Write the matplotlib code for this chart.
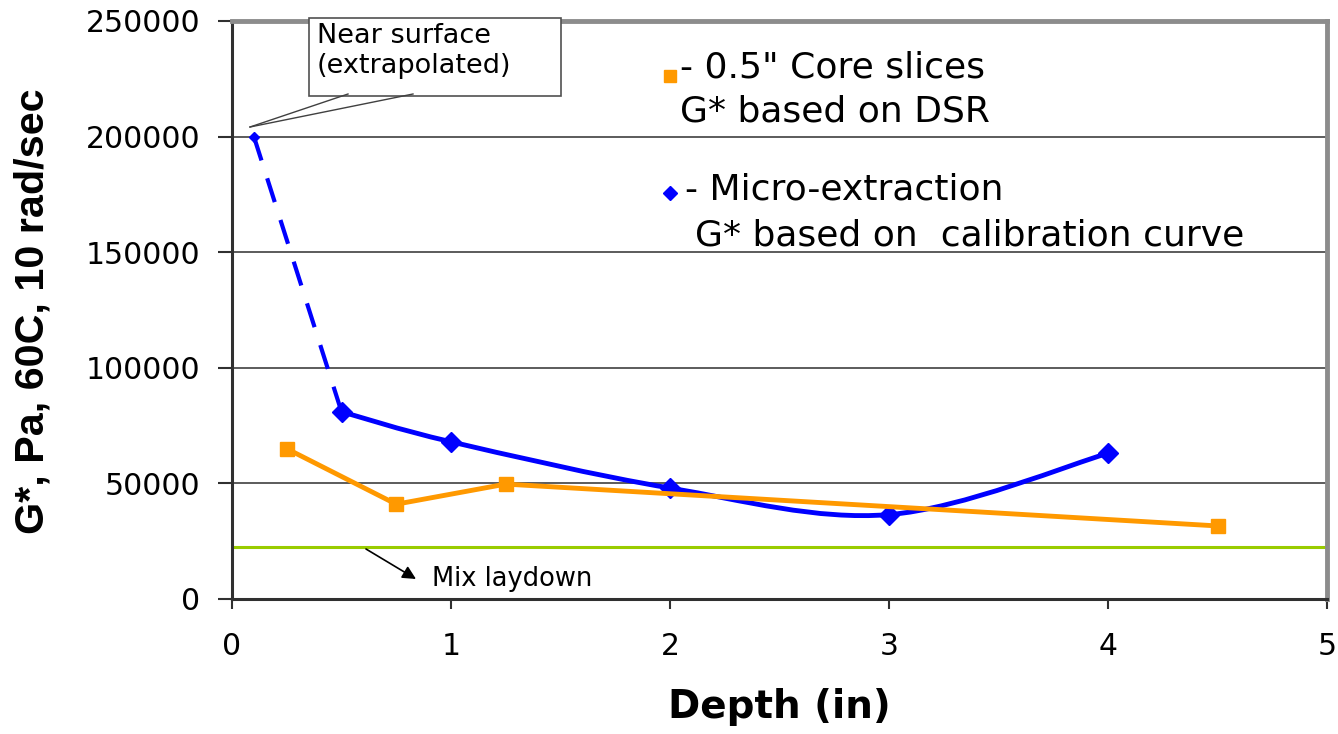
import matplotlib
matplotlib.use("Agg")
import matplotlib.pyplot as plt
from matplotlib import font_manager
from matplotlib.path import Path
from matplotlib.patches import PathPatch, Rectangle

# ---------------- data ----------------
depth_core = [0.25, 0.75, 1.25, 4.5]
g_core = [65000, 41000, 49700, 31600]

depth_micro = [0.1, 0.5, 1.0, 2.0, 3.0, 4.0]
g_micro = [200000, 81000, 68000, 48000, 36500, 63000]

mix_laydown = 22500

x_ticks = [0, 1, 2, 3, 4, 5]
x_tick_labels = ["0", "1", "2", "3", "4", "5"]
y_ticks = [0, 50000, 100000, 150000, 200000, 250000]
y_tick_labels = ["0", "50000", "100000", "150000", "200000", "250000"]

legend_core = ['- 0.5" Core slices', 'G* based on DSR']
legend_micro = ['- Micro-extraction', 'G* based on  calibration curve']
callout_text = "Near surface\n(extrapolated)"
mix_text = "Mix laydown"
x_label = "Depth (in)"
y_label = "G*, Pa, 60C, 10 rad/sec"

# ---------------- style ----------------
W, H = 1338, 734
ORANGE = "#FF9900"
BLUE = "#0000FF"
GREEN = "#99CC00"

names = {f.name for f in font_manager.fontManager.ttflist}
arial_like = "Liberation Sans" if "Liberation Sans" in names else "DejaVu Sans"

plt.rcParams["font.family"] = ["DejaVu Sans"]


def fx(px):
    return px / W


def fy(py):
    return 1 - py / H


fig = plt.figure(figsize=(W / 100, H / 100), dpi=100)
ax = fig.add_axes([fx(232), fy(599), (1327 - 232) / W, (599 - 21) / H])
ax.set_xlim(0, 5)
ax.set_ylim(0, 250000)
ax.set_xticks(x_ticks)
ax.set_xticklabels(x_tick_labels)
ax.set_yticks(y_ticks)
ax.set_yticklabels(y_tick_labels)

for s in ("left", "bottom"):
    ax.spines[s].set_color("#303030")
    ax.spines[s].set_linewidth(2.2)
for s in ("top", "right"):
    ax.spines[s].set_color("#8c8c8c")
    ax.spines[s].set_linewidth(3.5)

ax.tick_params(axis="y", direction="out", length=10, width=1.5, color="#303030",
               pad=13, labelsize=21.5)
ax.tick_params(axis="x", direction="out", length=7, width=1.5, color="#303030",
               pad=17, labelsize=21.5)

ax.yaxis.grid(True, color="#404040", lw=1.2)
ax.set_axisbelow(True)

# mix laydown line
ax.axhline(mix_laydown, color=GREEN, lw=2.2, zorder=2)

# micro-extraction: dashed extrapolated segment
ax.plot(depth_micro[:2], g_micro[:2], color=BLUE, lw=3, ls=(0, (6, 4.5)), zorder=3)
ax.plot(depth_micro[:1], g_micro[:1], ls="none", marker="D", ms=5, color=BLUE, zorder=3)

# micro-extraction: smoothed curve (Excel-like Bezier smoothing)
px = depth_micro[1:]
py = g_micro[1:]
n = len(px)
verts = [(px[0], py[0])]
codes = [Path.MOVETO]
for i in range(n - 1):
    i0 = max(i - 1, 0)
    i3 = min(i + 2, n - 1)
    c1 = (px[i] + (px[i + 1] - px[i0]) / 6, py[i] + (py[i + 1] - py[i0]) / 6)
    c2 = (px[i + 1] - (px[i3] - px[i]) / 6, py[i + 1] - (py[i3] - py[i]) / 6)
    verts += [c1, c2, (px[i + 1], py[i + 1])]
    codes += [Path.CURVE4] * 3
ax.add_patch(PathPatch(Path(verts, codes), fill=False, ec=BLUE, lw=3.5, zorder=3,
                       capstyle="round", joinstyle="round"))
ax.plot(px, py, ls="none", marker="D", ms=10, color=BLUE, zorder=4)

# core slices
ax.plot(depth_core, g_core, color=ORANGE, lw=3.5, marker="s", ms=10.5, zorder=5)

# ---------------- callout ----------------
fig.add_artist(Rectangle((fx(309), fy(96)), (561 - 309) / W, (96 - 18) / H,
                         transform=fig.transFigure, fc="white", ec="#505050",
                         lw=1.2, zorder=10))
fig.text(fx(317), fy(23), callout_text, fontsize=19.5, va="top", ha="left",
         linespacing=1.2, zorder=11)
for bx in (348, 413):
    fig.add_artist(plt.Line2D([fx(bx), fx(250)], [fy(94), fy(127)],
                              transform=fig.transFigure, color="#404040", lw=1.0,
                              zorder=11))

# ---------------- mix laydown annotation ----------------
ax.annotate("", xy=(fx(416), fy(579)), xytext=(fx(366), fy(549)),
            xycoords="figure fraction", textcoords="figure fraction",
            arrowprops=dict(arrowstyle="-|>", color="black", lw=1.2,
                            mutation_scale=20, shrinkA=0, shrinkB=0))
fig.text(fx(432), fy(586), mix_text, fontsize=18.5, va="baseline", ha="left")

# ---------------- legend (drawn as chart text) ----------------
fig.add_artist(plt.Line2D([fx(670)], [fy(76)], transform=fig.transFigure,
                          marker="s", ms=8.5, color=ORANGE, ls="none"))
fig.add_artist(plt.Line2D([fx(670)], [fy(193)], transform=fig.transFigure,
                          marker="D", ms=7, color=BLUE, ls="none"))
fig.text(fx(680), fy(77), legend_core[0], fontsize=26, va="baseline", ha="left")
fig.text(fx(680), fy(122), legend_core[1], fontsize=26, va="baseline", ha="left")
fig.text(fx(685), fy(200), legend_micro[0], fontsize=26, va="baseline", ha="left")
fig.text(fx(695), fy(246), legend_micro[1], fontsize=26, va="baseline", ha="left")

# ---------------- axis labels ----------------
fig.text(fx(779), fy(707), x_label, fontsize=28, fontweight="bold",
         ha="center", va="center")
ylab = fig.text(fx(33), fy(311), y_label, fontsize=30, fontweight="bold",
                family=[arial_like, "DejaVu Sans"], rotation=90,
                ha="center", va="center")
# fit the y label to the reference length (~444 px)
renderer = fig.canvas.get_renderer()
ext = ylab.get_window_extent(renderer)
ylab.set_fontsize(30 * 444.0 / ext.height)

fig.savefig("out.png", dpi=100)
